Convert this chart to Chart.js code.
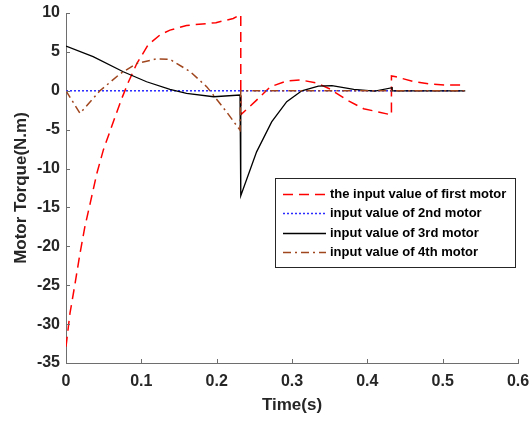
<!DOCTYPE html>
<html>
<head>
<meta charset="utf-8">
<script src="https://cdn.jsdelivr.net/npm/chart.js@4.4.0/dist/chart.umd.min.js"></script>
<style>
  html, body { margin: 0; padding: 0; background: #fff; }
</style>
</head>
<body>
<canvas id="grafik" width="532" height="422"></canvas>
<script>
// motor 1 (red dashed)
const t1 = [0, 0.0053, 0.012, 0.0186, 0.025, 0.032, 0.041, 0.0496, 0.065, 0.074, 0.083, 0.094, 0.109, 0.125, 0.138, 0.16, 0.199, 0.222, 0.232,
            0.232, 0.253, 0.271, 0.293, 0.311, 0.333, 0.351, 0.373, 0.395, 0.432,
            0.432, 0.438, 0.461, 0.483, 0.506, 0.53];
const v1 = [-32.9, -28.6, -24.8, -20.9, -17.5, -14.5, -10.6, -7.6, -3.4, -1.0, 1.16, 3.5, 5.9, 7.2, 7.8, 8.4, 8.75, 9.3, 9.8,
            -3.1, -1.2, 0.5, 1.25, 1.4, 1.0, 0.2, -1.2, -2.3, -3.1,
            1.9, 1.8, 1.2, 0.86, 0.73, 0.75];
// motor 2 (blue dotted)
const t2 = [0, 0.53];
const v2 = [0, 0];
// motor 3 (black solid)
const t3 = [0, 0.036, 0.076, 0.107, 0.138, 0.16, 0.196, 0.231, 0.232, 0.253, 0.273, 0.293, 0.313, 0.335, 0.353, 0.382, 0.41, 0.433, 0.433, 0.53];
const v3 = [5.75, 4.4, 2.45, 1.16, 0.18, -0.33, -0.77, -0.55, -13.5, -7.85, -4.0, -1.4, 0, 0.6, 0.65, 0.18, -0.04, 0.4, 0, 0];
// motor 4 (brown dash-dot)
const t4 = [0, 0.0186, 0.045, 0.072, 0.094, 0.12, 0.138, 0.165, 0.187, 0.213, 0.231, 0.232, 0.53];
const v4 = [0, -2.9, 0, 2.2, 3.5, 4.1, 4.04, 2.45, 0.5, -2.7, -5.06, 0, 0];

const etiketler = ['the input value of first motor', 'input value of 2nd motor', 'input value of 3rd motor', 'input value of 4th motor'];
const xTicks = [0, 0.1, 0.2, 0.3, 0.4, 0.5, 0.6];
const yTicks = [-35, -30, -25, -20, -15, -10, -5, 0, 5, 10];

const noktalar = (t, v) => t.map((x, i) => ({ x: x, y: v[i] }));

const eksenRenk = '#6e6e6e';
const yaziRenk = '#262626';
const yazi = '"Liberation Sans", Arial, sans-serif';

// MATLAB style inward tick marks
const icTikler = {
    id: 'icTikler',
    afterDatasetsDraw(chart) {
        const ctx = chart.ctx;
        const xs = chart.scales.x, ys = chart.scales.y;
        const a = chart.chartArea;
        ctx.save();
        ctx.strokeStyle = eksenRenk;
        ctx.lineWidth = 1;
        ctx.setLineDash([]);
        xTicks.forEach(v => {
            const px = Math.round(xs.getPixelForValue(v)) + 0.5;
            ctx.beginPath();
            ctx.moveTo(px, a.bottom);
            ctx.lineTo(px, a.bottom - 4);
            ctx.stroke();
        });
        yTicks.forEach(v => {
            const py = Math.round(ys.getPixelForValue(v)) + 0.5;
            ctx.beginPath();
            ctx.moveTo(a.left, py);
            ctx.lineTo(a.left + 4, py);
            ctx.stroke();
        });
        ctx.restore();
    }
};

// legend box inside the plot
const lejant = {
    id: 'lejant',
    afterDraw(chart) {
        const ctx = chart.ctx;
        const bx = 275, by = 178, bw = 240, bh = 89;
        ctx.save();
        ctx.fillStyle = '#fff';
        ctx.fillRect(bx, by, bw, bh);
        ctx.strokeStyle = yaziRenk;
        ctx.lineWidth = 1;
        ctx.setLineDash([]);
        ctx.strokeRect(bx + 0.5, by + 0.5, bw, bh);
        chart.data.datasets.forEach((ds, i) => {
            const y = Math.round(193.5 + i * 19.5) + 0.5;
            ctx.strokeStyle = ds.borderColor;
            ctx.lineWidth = ds.borderWidth;
            ctx.setLineDash(ds.borderDash || []);
            ctx.beginPath();
            ctx.moveTo(283, y);
            ctx.lineTo(326, y);
            ctx.stroke();
            ctx.setLineDash([]);
            ctx.fillStyle = '#000';
            ctx.font = 'bold 13px ' + yazi;
            ctx.textAlign = 'left';
            ctx.textBaseline = 'middle';
            ctx.fillText(ds.label, 330, y);
        });
        ctx.restore();
    }
};

const ctx = document.getElementById('grafik').getContext('2d');
new Chart(ctx, {
    type: 'line',
    data: {
        datasets: [
            { label: etiketler[0], data: noktalar(t1, v1), borderColor: '#ff0000', borderWidth: 1.5, borderDash: [10, 6], order: 4 },
            { label: etiketler[1], data: noktalar(t2, v2), borderColor: '#2b2bff', borderWidth: 1.5, borderDash: [2, 2], order: 3 },
            { label: etiketler[2], data: noktalar(t3, v3), borderColor: '#000000', borderWidth: 1.3, borderDash: [], order: 2 },
            { label: etiketler[3], data: noktalar(t4, v4), borderColor: '#a0461e', borderWidth: 1.5, borderDash: [8, 4, 2, 4], order: 1 }
        ]
    },
    options: {
        responsive: false,
        animation: false,
        parsing: false,
        elements: { point: { radius: 0 }, line: { tension: 0, fill: false } },
        layout: { padding: { top: 13, right: 14, left: 0, bottom: 0 } },
        plugins: { legend: { display: false }, tooltip: { enabled: false } },
        scales: {
            x: {
                type: 'linear', min: 0, max: 0.6,
                afterFit: s => { s.height = 59; s.paddingLeft = 0; s.paddingRight = 0; },
                afterBuildTicks: s => { s.ticks = xTicks.map(v => ({ value: v })); },
                grid: { drawOnChartArea: false, drawTicks: false },
                border: { color: eksenRenk, width: 1 },
                ticks: {
                    color: yaziRenk, padding: 9, maxRotation: 0,
                    font: { family: yazi, size: 16, weight: 'bold' },
                    callback: v => String(Math.round(v * 10) / 10)
                },
                title: {
                    display: true, text: 'Time(s)', color: yaziRenk,
                    font: { family: yazi, size: 17, weight: 'bold' },
                    padding: { top: 0, bottom: 6 }
                }
            },
            y: {
                type: 'linear', min: -35, max: 10,
                afterFit: s => { s.width = 66; s.paddingTop = 0; s.paddingBottom = 0; },
                afterBuildTicks: s => { s.ticks = yTicks.map(v => ({ value: v })); },
                grid: { drawOnChartArea: false, drawTicks: false },
                border: { color: eksenRenk, width: 1 },
                ticks: {
                    color: yaziRenk, padding: 6,
                    font: { family: yazi, size: 16, weight: 'bold' },
                    callback: v => String(v)
                },
                title: {
                    display: true, text: 'Motor Torque(N.m)', color: yaziRenk,
                    font: { family: yazi, size: 17, weight: 'bold' },
                    padding: { top: 11, bottom: 0 }
                }
            }
        }
    },
    plugins: [icTikler, lejant]
});
</script>
</body>
</html>
